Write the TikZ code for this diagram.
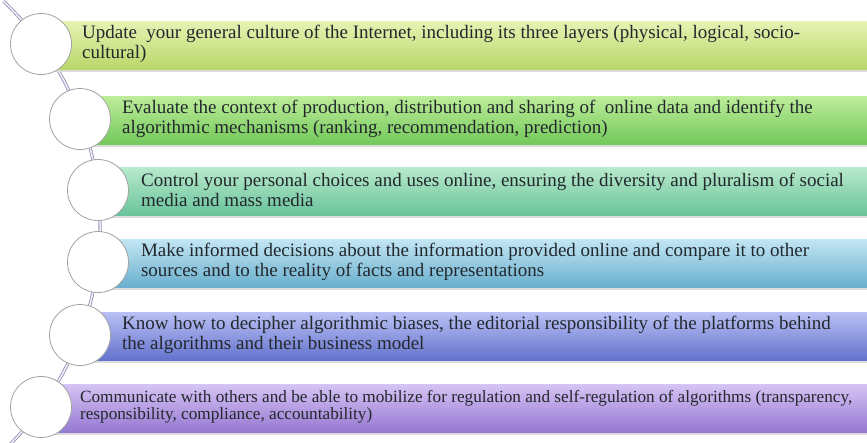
\documentclass[tikz,border=0pt]{standalone}
\usepackage{fontspec}
\setmainfont{Liberation Serif}
\usetikzlibrary{positioning}

\definecolor{arcline}{RGB}{150,140,185}
\definecolor{ringgray}{RGB}{160,165,160}
\definecolor{inkdark}{RGB}{35,40,45}
\definecolor{barAtop}{RGB}{230,243,180}\definecolor{barAbot}{RGB}{185,215,105}
\definecolor{barBtop}{RGB}{190,237,155}\definecolor{barBbot}{RGB}{115,200,90}
\definecolor{barCtop}{RGB}{185,234,205}\definecolor{barCbot}{RGB}{105,195,155}
\definecolor{barDtop}{RGB}{195,230,244}\definecolor{barDbot}{RGB}{105,175,205}
\definecolor{barEtop}{RGB}{185,192,244}\definecolor{barEbot}{RGB}{100,115,205}
\definecolor{barFtop}{RGB}{214,196,244}\definecolor{barFbot}{RGB}{150,120,210}

\tikzset{
  bubble/.style={circle, draw=ringgray, line width=0.8pt, fill=white, minimum size=61pt, inner sep=0pt},
  bartext/.style={align=left, text=inkdark, inner sep=0pt, font=\fontsize{19}{20}\selectfont},
  smalltext/.style={bartext, font=\fontsize{17.2}{17.5}\selectfont},
  ringline/.style={draw=arcline, double=white!85!arcline, line width=0.8pt, double distance=1.6pt}
}

\begin{document}
\begin{tikzpicture}[x=1pt, y=-1pt]
  \useasboundingbox (0,0) rectangle (867,442);
  \coordinate (arcctr) at (-209.7,226);
  \draw[ringline] ([shift={(-46.5:309.8)}]arcctr) arc[start angle=-46.5, end angle=45, radius=309.8];
  \foreach \x/\y/\c [count=\i] in {41/44/A, 80/119/B, 98/190/C, 98/262/D, 80/335/E, 41/407/F} {
    \fill[black!14] (\x,\y-22) rectangle (867,\y+28);
    \shade[top color=bar\c top, bottom color=bar\c bot] (\x,\y-23) rectangle (867,\y+25);
    \node[bubble] (c\i) at (\x,\y) {};
  }
  \node[bartext, right=10pt of c1] (t1) {Update~ your general culture of the Internet, including its three layers (physical, logical, socio-\\cultural)};
  \node[bartext, right=11pt of c2] (t2) {Evaluate the context of production, distribution and sharing of~ online data and identify the\\algorithmic mechanisms (ranking, recommendation, prediction)};
  \node[bartext, right=12pt of c3] (t3) {Control your personal choices and uses online, ensuring the diversity and pluralism of social\\media and mass media};
  \node[bartext, right=12pt of c4] (t4) {Make informed decisions about the information provided online and compare it to other\\sources and to the reality of facts and representations};
  \node[bartext, right=11pt of c5] (t5) {Know how to decipher algorithmic biases, the editorial responsibility of the platforms behind\\the algorithms and their business model};
  \node[smalltext, right=8pt of c6] (t6) {Communicate with others and be able to mobilize for regulation and self-regulation of algorithms (transparency,\\responsibility, compliance, accountability)};
\end{tikzpicture}
\end{document}
